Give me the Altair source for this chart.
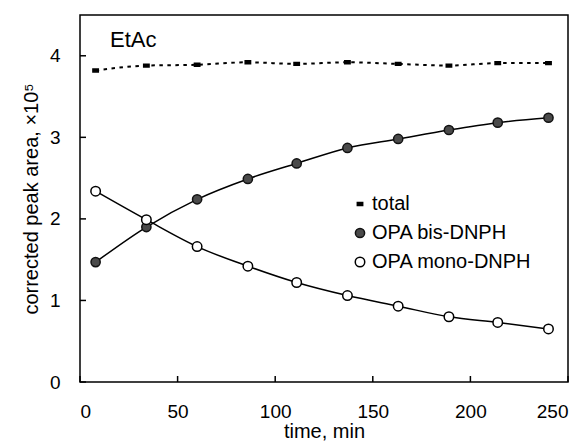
import altair as alt
import pandas as pd

# Reaction time course in ethyl acetate
time_min = [8, 34, 60, 86, 111, 137, 163, 189, 214, 240]
bis_dnph = [1.47, 1.90, 2.24, 2.49, 2.68, 2.87, 2.98, 3.09, 3.18, 3.24]
mono_dnph = [2.34, 1.99, 1.66, 1.42, 1.22, 1.06, 0.93, 0.80, 0.73, 0.65]
total = [3.82, 3.88, 3.89, 3.92, 3.90, 3.92, 3.90, 3.88, 3.91, 3.91]

series_names = ["total", "OPA bis-DNPH", "OPA mono-DNPH"]
x_ticks = [0, 50, 100, 150, 200, 250]
y_ticks = [0, 1, 2, 3, 4]

rows = []
for name, vals in zip(series_names, [total, bis_dnph, mono_dnph]):
    for t, v in zip(time_min, vals):
        rows.append({"time": t, "area": v, "series": name})
df = pd.DataFrame(rows)

FONT = "Liberation Sans"
dash_path = "M-0.6,-0.32H0.6V0.32H-0.6Z"

x_scale = alt.Scale(domain=[0, 250], nice=False)
y_scale = alt.Scale(domain=[0, 4.5], nice=False)

x_axis = alt.Axis(values=x_ticks, title="time, min", ticks=False,
                  domain=False, grid=False, labelFontSize=19,
                  labelPadding=20, titleFontSize=20,
                  titleFontWeight="normal", titlePadding=0,
                  labelFont=FONT, titleFont=FONT,
                  labelColor="black", titleColor="black")
y_axis = alt.Axis(values=y_ticks, title="corrected peak area, ×10⁵",
                  ticks=False, domain=False, grid=False,
                  labelFontSize=19, labelPadding=20, titleFontSize=20,
                  titleFontWeight="normal", titlePadding=8,
                  labelFont=FONT, titleFont=FONT,
                  labelColor="black", titleColor="black")

x_enc = alt.X("time:Q", scale=x_scale, axis=x_axis)
y_enc = alt.Y("area:Q", scale=y_scale, axis=y_axis)

base = alt.Chart(df)

line_total = base.transform_filter(alt.datum.series == "total").mark_line(
    color="black", strokeWidth=2, strokeDash=[3.5, 4.5], interpolate="monotone"
).encode(x=x_enc, y=y_enc)

line_fits = base.transform_filter(alt.datum.series != "total").mark_line(
    color="black", strokeWidth=1.5, interpolate="monotone"
).encode(x=x_enc, y=y_enc, detail="series:N")

points = base.mark_point(filled=True, strokeWidth=1.5, opacity=1).encode(
    x=x_enc, y=y_enc,
    shape=alt.Shape("series:N", scale=alt.Scale(domain=series_names,
                                                range=[dash_path, "circle", "circle"]),
                    title=None),
    fill=alt.Fill("series:N", scale=alt.Scale(domain=series_names,
                                              range=["black", "#4a4a4a", "white"]),
                  title=None),
    stroke=alt.Stroke("series:N", scale=alt.Scale(domain=series_names,
                                                  range=["black", "#111111", "black"]),
                      title=None),
    size=alt.Size("series:N", scale=alt.Scale(domain=series_names,
                                              range=[80, 90, 90]),
                  title=None),
)

# inward tick marks on the left and bottom edges
xt = pd.DataFrame({"time": x_ticks})
yt = pd.DataFrame({"area": y_ticks})
x_tick_marks = alt.Chart(xt).mark_rule(color="black", strokeWidth=1.5).encode(
    x=x_enc, y=alt.value(367), y2=alt.value(361))
y_tick_marks = alt.Chart(yt).mark_rule(color="black", strokeWidth=1.5).encode(
    y=y_enc, x=alt.value(0), x2=alt.value(6))

# plot frame
frame = alt.Chart(pd.DataFrame({"k": [0]})).mark_rect(
    fill=None, stroke="black", strokeWidth=1.5
).encode(x=alt.value(0), x2=alt.value(488), y=alt.value(0), y2=alt.value(367))

label = alt.Chart(pd.DataFrame({"t": ["EtAc"]})).mark_text(
    align="left", baseline="alphabetic", fontSize=22, font=FONT, color="black"
).encode(text="t:N", x=alt.value(30), y=alt.value(32))

chart = alt.layer(
    line_total, line_fits, points, x_tick_marks, y_tick_marks, frame, label
).resolve_scale(
    shape="shared", fill="shared", stroke="shared", size="shared"
).properties(
    width=488, height=367,
    autosize=alt.AutoSizeParams(type="none"),
    padding={"left": 80, "top": 15, "right": 14, "bottom": 65},
    background="white",
).configure_view(
    stroke=None
).configure_legend(
    orient="none", legendX=270, legendY=179, labelFontSize=20, labelFont=FONT,
    labelColor="black", rowPadding=9, symbolStrokeWidth=1.5, labelOffset=2,
    padding=0,
)

chart.save("out.html", embed_options={"renderer": "svg", "actions": False})
